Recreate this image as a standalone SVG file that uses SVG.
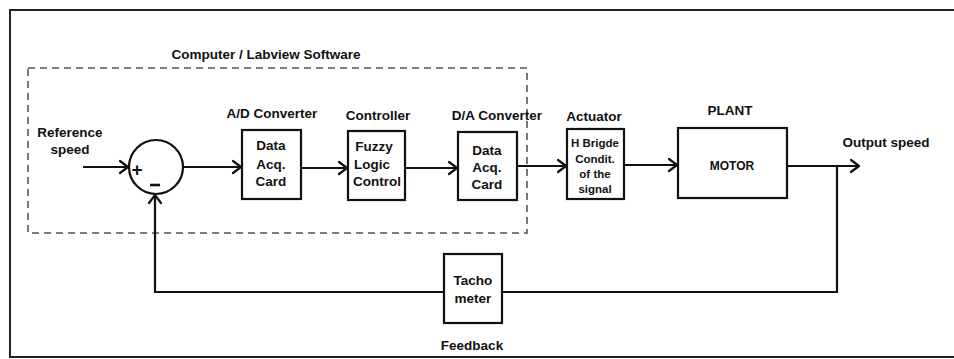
<svg xmlns="http://www.w3.org/2000/svg" width="954" height="359" viewBox="0 0 954 359">
<defs>
<marker id="arr" markerUnits="userSpaceOnUse" viewBox="-10 -8 12 16" refX="0" refY="0" markerWidth="12" markerHeight="16" orient="auto" overflow="visible">
<path d="M-8,-6 L0,0 L-8,6" fill="none" stroke="#111" stroke-width="2.2" stroke-linecap="round" stroke-linejoin="round"/>
</marker>
</defs>
<style>
text{font-family:"Liberation Sans",Arial,sans-serif;font-weight:bold;fill:#111;text-anchor:middle}
.lbl{font-size:13.5px}
.in{font-size:13.5px}
.sm{font-size:11.5px}
.box{fill:#fff;stroke:#111;stroke-width:2.2}
.ln{fill:none;stroke:#111;stroke-width:2.2}
</style>
<rect x="0" y="0" width="954" height="359" fill="#fff"/>
<g id="frame">
<path d="M10,358 L10,10 L954,10" fill="none" stroke="#222" stroke-width="2"/>
<line x1="10" y1="357" x2="954" y2="357" stroke="#222" stroke-width="2"/>
</g>
<g id="software">
<rect x="28" y="68" width="499" height="165" fill="none" stroke="#555" stroke-width="1.6" stroke-dasharray="7,5"/>
<text class="lbl" x="266" y="59">Computer / Labview Software</text>
</g>
<g id="connectors">
<line class="ln" x1="83" y1="167" x2="128" y2="167" marker-end="url(#arr)"/>
<line class="ln" x1="184" y1="167" x2="241" y2="167" marker-end="url(#arr)"/>
<line class="ln" x1="301" y1="168" x2="347" y2="168" marker-end="url(#arr)"/>
<line class="ln" x1="405" y1="168" x2="457" y2="168" marker-end="url(#arr)"/>
<line class="ln" x1="517" y1="166" x2="566" y2="166" marker-end="url(#arr)"/>
<line class="ln" x1="624" y1="165" x2="677" y2="165" marker-end="url(#arr)"/>
<line class="ln" x1="787" y1="166" x2="859" y2="166" marker-end="url(#arr)"/>
<polyline class="ln" points="837,166 837,292 502,292"/>
<polyline class="ln" points="444,292 155,292 155,195" marker-end="url(#arr)"/>
</g>
<g id="reference">
<text class="lbl" x="70" y="137">Reference</text>
<text class="lbl" x="70" y="154">speed</text>
</g>
<g id="sum">
<circle cx="156" cy="167" r="27" fill="#fff" stroke="#111" stroke-width="2.2"/>
<text x="137" y="176" style="font-size:19px">+</text>
<line x1="150" y1="185" x2="160" y2="185" stroke="#111" stroke-width="2.6"/>
</g>
<g id="ad">
<text class="lbl" x="272" y="118">A/D Converter</text>
<rect class="box" x="242" y="130" width="59" height="69"/>
<text class="in" x="271" y="150">Data</text>
<text class="in" x="271" y="169">Acq.</text>
<text class="in" x="271" y="186">Card</text>
</g>
<g id="controller">
<text class="lbl" x="378" y="120">Controller</text>
<rect class="box" x="348" y="131" width="57" height="69"/>
<text class="in" x="374" y="151">Fuzzy</text>
<text class="in" x="372" y="169">Logic</text>
<text class="in" x="377" y="186">Control</text>
</g>
<g id="da">
<text class="lbl" x="497" y="120">D/A Converter</text>
<rect class="box" x="458" y="132" width="59" height="68"/>
<text class="in" x="487" y="155">Data</text>
<text class="in" x="487" y="172">Acq.</text>
<text class="in" x="487" y="189">Card</text>
</g>
<g id="actuator">
<text class="lbl" x="594" y="121">Actuator</text>
<rect class="box" x="567" y="129" width="57" height="70"/>
<text class="sm" x="595" y="147">H Brigde</text>
<text class="sm" x="595" y="163">Condit.</text>
<text class="sm" x="595" y="178">of the</text>
<text class="sm" x="595" y="193">signal</text>
</g>
<g id="plant">
<text class="lbl" x="730" y="115">PLANT</text>
<rect class="box" x="678" y="128" width="109" height="70"/>
<text x="732" y="170" style="font-size:12px">MOTOR</text>
</g>
<g id="output">
<text class="lbl" x="886" y="147">Output speed</text>
</g>
<g id="tacho">
<rect class="box" x="444" y="254" width="58" height="69"/>
<text class="in" x="473" y="285">Tacho</text>
<text class="in" x="473" y="303">meter</text>
<text class="lbl" x="472" y="350">Feedback</text>
</g>
</svg>
